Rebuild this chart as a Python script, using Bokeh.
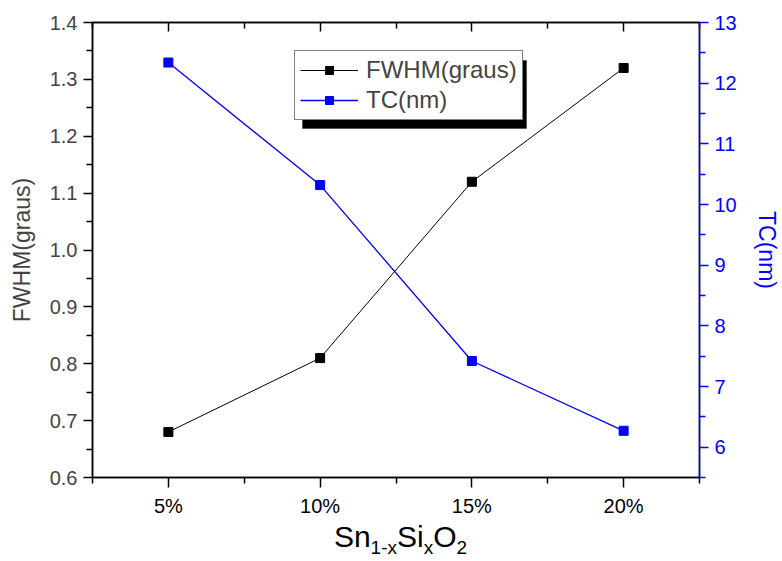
from bokeh.plotting import figure
from bokeh.layouts import column
from bokeh.models import (Range1d, LinearAxis, FixedTicker, Legend, LegendItem,
                          BoxAnnotation, Label, NumeralTickFormatter)
from bokeh.embed import file_html
from bokeh.resources import INLINE

# ---- data ----
categories = ["5%", "10%", "15%", "20%"]
fwhm = [0.68, 0.81, 1.12, 1.32]
tc = [12.34, 10.32, 7.42, 6.27]
left_ticks = [0.6, 0.7, 0.8, 0.9, 1.0, 1.1, 1.2, 1.3, 1.4]
right_ticks = [6, 7, 8, 9, 10, 11, 12, 13]

FONT = "Liberation Sans"
BLUE = "#0000FF"
W, H_TOP, H_BOT = 782, 521, 40
BL, BR = 92, 74
x = list(range(len(categories)))

p = figure(width=W, height=H_TOP, output_backend="svg", toolbar_location=None,
           x_range=Range1d(-0.5, len(categories) - 0.5),
           y_range=Range1d(0.6, 1.4),
           min_border_left=BL, min_border_right=BR, min_border_top=22, min_border_bottom=44)
p.extra_y_ranges = {"tc": Range1d(5.5, 13)}
p.xgrid.visible = False
p.ygrid.visible = False
p.outline_line_color = "black"
p.outline_line_width = 1.5
p.background_fill_color = "white"
p.border_fill_color = "white"

x_major = x
x_minor = [i - 0.5 for i in range(len(categories) + 1)]
left_minor = [round(v + 0.05, 3) for v in left_ticks[:-1]]
right_minor = [v - 0.5 for v in right_ticks]

# bottom axis
xa = p.xaxis[0]
xa.ticker = FixedTicker(ticks=x_major, minor_ticks=x_minor)
xa.major_label_overrides = {i: c for i, c in enumerate(categories)}
xa.major_label_text_font = FONT
xa.major_label_text_font_size = "20px"
xa.major_label_text_color = "black"
xa.major_label_standoff = 7
xa.major_tick_in = 0
xa.major_tick_out = 10
xa.minor_tick_in = 0
xa.minor_tick_out = 6
xa.axis_line_width = 1.5
xa.major_tick_line_width = 1.5
xa.minor_tick_line_width = 1.5

# left axis
ya = p.yaxis[0]
ya.ticker = FixedTicker(ticks=left_ticks, minor_ticks=left_minor)
ya.formatter = NumeralTickFormatter(format="0.0")
ya.axis_label = "FWHM(graus)"
ya.axis_label_text_font = FONT
ya.axis_label_text_font_size = "23px"
ya.axis_label_text_font_style = "normal"
ya.axis_label_standoff = 12
ya.major_label_text_font = FONT
ya.major_label_text_font_size = "20px"
ya.major_label_standoff = 6
ya.major_tick_in = 0
ya.major_tick_out = 9
ya.minor_tick_in = 0
ya.minor_tick_out = 6
ya.axis_line_width = 1.5
ya.major_tick_line_width = 1.5
ya.minor_tick_line_width = 1.5

# top axis (ticks only, inward)
ta = LinearAxis(ticker=FixedTicker(ticks=x_major, minor_ticks=x_minor),
                major_label_overrides={i: "" for i in x},
                major_label_text_font_size="1px", major_label_standoff=0,
                major_tick_in=9, major_tick_out=0, minor_tick_in=6, minor_tick_out=0,
                axis_line_width=1.5, major_tick_line_width=1.5, minor_tick_line_width=1.5)
p.add_layout(ta, "above")

# right axis
ra = LinearAxis(y_range_name="tc", ticker=FixedTicker(ticks=right_ticks, minor_ticks=right_minor),
                axis_label="TC(nm)", axis_label_text_font=FONT, axis_label_text_font_size="23px",
                axis_label_text_font_style="normal", axis_label_text_color=BLUE,
                axis_label_standoff=14,
                major_label_text_font=FONT, major_label_text_font_size="20px",
                major_label_text_color=BLUE, major_label_standoff=6,
                major_tick_in=0, major_tick_out=9, minor_tick_in=0, minor_tick_out=6,
                axis_line_color=BLUE, major_tick_line_color=BLUE, minor_tick_line_color=BLUE,
                axis_line_width=1.5, major_tick_line_width=1.5, minor_tick_line_width=1.5)
p.add_layout(ra, "right")

# data
r1 = p.line(x, fwhm, line_color="black", line_width=1)
r1s = p.scatter(x, fwhm, marker="square", size=9, fill_color="black", line_color="black")
r2 = p.line(x, tc, line_color=BLUE, line_width=1.3, y_range_name="tc")
r2s = p.scatter(x, tc, marker="square", size=9, fill_color=BLUE, line_color=BLUE, y_range_name="tc")

# legend with shadow
LEG_X, LEG_Y, LEG_W, LEG_H, SH = 202, 357, 224, 68, 8
shadow = BoxAnnotation(left=LEG_X + SH, right=LEG_X + LEG_W + SH,
                       bottom=LEG_Y - SH, top=LEG_Y + LEG_H - SH,
                       left_units="screen", right_units="screen",
                       top_units="screen", bottom_units="screen",
                       fill_color="black", fill_alpha=1.0, line_color="black")
p.add_layout(shadow)

legend = Legend(items=[LegendItem(label="FWHM(graus)", renderers=[r1, r1s]),
                       LegendItem(label="TC(nm)", renderers=[r2, r2s])],
                location=(LEG_X, LEG_Y), orientation="vertical",
                label_text_font=FONT, label_text_font_size="24px",
                glyph_width=58, glyph_height=20, label_standoff=8,
                padding=5, spacing=2, margin=0,
                border_line_color="black", border_line_width=1,
                background_fill_color="white", background_fill_alpha=1.0)
p.add_layout(legend)

# x axis title with subscripts, in a strip below the chart (frame aligned with the chart)
q = figure(width=W, height=H_BOT, output_backend="svg", toolbar_location=None,
           x_range=Range1d(0, W - BL - BR), y_range=Range1d(0, H_BOT),
           x_axis_location=None, y_axis_location=None,
           min_border_left=BL, min_border_right=BR, min_border_top=0, min_border_bottom=0)
q.xgrid.visible = False
q.ygrid.visible = False
q.outline_line_color = None
q.background_fill_color = "white"
q.border_fill_color = "white"

ARIAL = {'S': 0.667, 'n': 0.556, 'i': 0.222, 'O': 0.778, '1': 0.556, '-': 0.333, 'x': 0.5, '2': 0.556}
MAIN, SUB = 30, 19
pieces = [("Sn", MAIN), ("1-x", SUB), ("Si", MAIN), ("x", SUB), ("O", MAIN), ("2", SUB)]
widths = [sum(ARIAL[c] for c in t) * s for t, s in pieces]
cx = (W - BL - BR) / 2 - sum(widths) / 2
for (t, s), w in zip(pieces, widths):
    q.add_layout(Label(x=cx, y=25 if s == MAIN else 14, x_units="screen", y_units="screen",
                       text=t, text_font=FONT, text_font_size=f"{s}px",
                       text_align="left", text_baseline="alphabetic", text_color="black"))
    cx += w

open("out.html", "w").write(file_html(column(p, q, spacing=0), INLINE))
